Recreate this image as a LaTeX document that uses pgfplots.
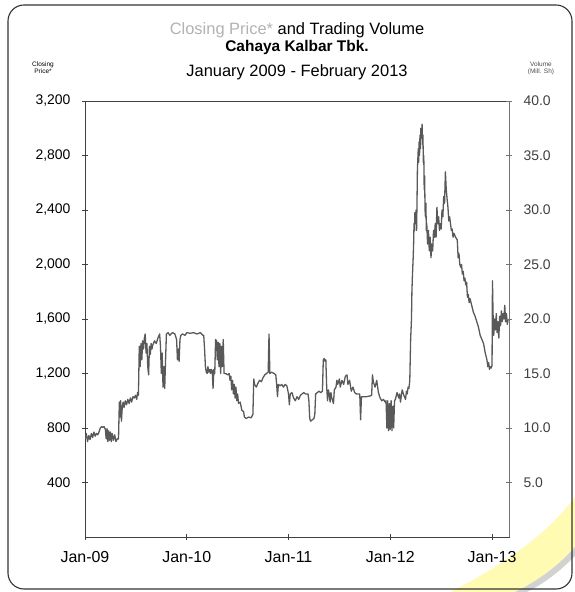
\documentclass[border=0pt]{standalone}
\usepackage{fontspec}
\setmainfont{Liberation Sans}
\usepackage{pgfplots}
\pgfplotsset{compat=1.18}
\usepackage{pgfplotstable}

\pgfplotstableread{
m p
0.0 720
0.15 760
0.3 700
0.45 745
0.6 715
0.75 760
0.9 730
1.05 770
1.2 740
1.35 760
1.5 750
1.65 770
1.8 800
1.95 810
2.1 805
2.25 810
2.4 790
2.5 720
2.6 795
2.7 700
2.8 780
2.9 710
3.0 770
3.1 700
3.2 760
3.35 710
3.5 750
3.65 700
3.8 720
3.95 720
4.05 990
4.1 880
4.2 1000
4.3 850
4.4 960
4.5 990
4.6 950
4.75 1000
4.9 970
5.05 1010
5.2 980
5.35 1020
5.5 990
5.65 1030
5.8 1020
5.95 1040
6.1 1010
6.2 1060
6.3 1040
6.4 1400
6.5 1250
6.6 1420
6.7 1300
6.8 1440
6.9 1380
7.0 1460
7.1 1490
7.2 1350
7.3 1420
7.4 1250
7.5 1190
7.6 1400
7.7 1340
7.8 1420
7.9 1380
8.0 1410
8.2 1440
8.4 1420
8.6 1460
8.8 1490
8.9 1400
9.0 1200
9.1 1350
9.2 1100
9.3 1250
9.4 1090
9.5 1300
9.6 1490
9.8 1500
10.0 1480
10.3 1500
10.6 1490
10.8 1450
10.9 1300
11.0 1380
11.1 1290
11.2 1450
11.3 1480
11.5 1490
11.8 1480
12.0 1500
12.4 1495
12.8 1500
13.2 1490
13.6 1500
13.9 1480
14.0 1480
14.1 1380
14.2 1250
14.3 1210
14.4 1200
14.5 1250
14.6 1210
14.7 1230
14.8 1200
14.9 1230
15.0 1220
15.1 1090
15.2 1230
15.3 1200
15.4 1450
15.5 1440
15.6 1300
15.7 1430
15.8 1250
15.9 1420
16.0 1200
16.1 1400
16.2 1250
16.3 1450
16.4 1200
16.6 1200
16.8 1190
17.0 1200
17.1 1150
17.2 1180
17.3 1080
17.4 1150
17.5 1050
17.6 1120
17.7 1020
17.8 1100
17.9 1000
18.0 1050
18.1 980
18.3 990
18.5 930
18.7 920
18.8 880
19.0 870
19.3 880
19.6 875
19.8 900
19.9 1160
20.0 1120
20.2 1100
20.4 1130
20.6 1150
20.8 1140
21.0 1170
21.2 1190
21.4 1200
21.6 1210
21.7 1490
21.8 1200
22.0 1210
22.3 1200
22.5 1190
22.6 1120
22.7 1030
22.8 1120
23.0 1110
23.2 1120
23.4 1100
23.6 1120
23.8 1110
24.0 1050
24.1 970
24.2 1050
24.4 1060
24.6 1020
24.8 1000
25.0 1030
25.2 1010
25.4 1040
25.6 1050
25.8 1060
26.0 1050
26.3 1050
26.4 1000
26.5 870
26.6 850
26.8 860
27.0 870
27.1 900
27.2 1050
27.4 1060
27.6 1070
27.8 1060
28.0 1070
28.1 1300
28.2 1310
28.3 1290
28.4 1300
28.5 1100
28.6 1000
28.7 1080
28.8 1050
28.9 990
29.0 1060
29.1 1020
29.3 980
29.4 1080
29.6 1100
29.7 1150
29.8 1120
30.0 1160
30.1 1100
30.3 1150
30.5 1120
30.7 1180
30.9 1190
31.0 1120
31.2 1150
31.4 1070
31.6 1100
31.8 1060
32.0 1050
32.2 1050
32.4 1050
32.5 860
32.6 1030
32.8 1030
33.2 1030
33.6 1035
33.8 1040
33.9 1190
34.0 1140
34.2 1100
34.4 1150
34.6 1060
34.8 1020
35.0 1000
35.2 1010
35.4 990
35.5 1000
35.6 800
35.7 1000
35.8 780
35.9 980
36.0 790
36.1 1000
36.2 780
36.3 960
36.4 800
36.5 1000
36.6 1010
36.8 1060
37.0 1020
37.1 1050
37.2 990
37.4 1080
37.6 1040
37.8 1010
37.9 1070
38.0 1050
38.1 1100
38.2 1090
38.3 1150
38.35 1300
38.4 1450
38.5 1600
38.55 1800
38.6 1900
38.7 2050
38.75 2150
38.8 2300
38.85 2250
38.9 2380
39.0 2300
39.05 2400
39.1 2250
39.15 2450
39.2 2700
39.3 2850
39.35 2750
39.4 2900
39.45 2800
39.5 2950
39.55 2850
39.6 3000
39.7 2950
39.75 3030
39.8 2880
39.85 2950
39.9 2750
39.95 2800
40.0 2550
40.05 2650
40.1 2400
40.15 2350
40.2 2450
40.25 2250
40.3 2300
40.4 2150
40.5 2250
40.6 2100
40.7 2200
40.8 2050
40.9 2150
41.0 2100
41.1 2250
41.2 2200
41.3 2300
41.4 2200
41.5 2420
41.6 2300
41.7 2350
41.8 2250
41.9 2300
42.0 2260
42.1 2400
42.2 2350
42.3 2500
42.4 2450
42.5 2680
42.6 2550
42.7 2480
42.8 2420
42.9 2320
43.0 2350
43.1 2300
43.2 2250
43.3 2260
43.4 2200
43.5 2230
43.7 2200
43.9 2180
44.0 2050
44.1 2080
44.2 2000
44.3 1980
44.4 2000
44.5 1930
44.6 1950
44.7 1880
44.8 1900
44.9 1850
45.0 1870
45.1 1760
45.2 1780
45.3 1720
45.4 1750
45.6 1700
45.8 1650
46.0 1620
46.2 1580
46.4 1540
46.6 1480
46.8 1450
47.0 1420
47.2 1350
47.4 1300
47.5 1250
47.6 1280
47.7 1230
47.8 1250
47.9 1240
48.0 1260
48.05 1880
48.1 1700
48.15 1550
48.2 1480
48.3 1600
48.4 1520
48.5 1640
48.6 1500
48.7 1580
48.8 1460
48.9 1620
49.0 1550
49.1 1660
49.2 1580
49.3 1640
49.4 1600
49.5 1700
49.6 1580
49.7 1640
49.8 1560
49.9 1600
}\pricedata

\begin{document}
\begin{tikzpicture}[x=1bp,y=1bp]
\path[use as bounding box] (0,0) rectangle (575,592);
% watermark swoosh (bottom right)
\fill[yellow!30] (450,0) .. controls (500,25) and (545,55) .. (575,95) -- (575,0) -- cycle;
\fill[gray!35] (515,0) .. controls (540,12) and (560,28) .. (575,45) -- (575,36) .. controls (560,20) and (542,7) .. (527,0) -- cycle;
\fill[white] (527,0) .. controls (542,7) and (560,20) .. (575,36) -- (575,0) -- cycle;
% frame
\draw[black!80, line width=1.1bp, rounded corners=16bp] (8,3) rectangle (572,587);
% titles
\node[font=\fontsize{16.5}{18}\selectfont] at (297,562) {\textcolor{black!30}{Closing Price*} and Trading Volume};
\node[font=\bfseries\fontsize{15.5}{18}\selectfont] at (297,544) {Cahaya Kalbar Tbk.};
\node[font=\fontsize{16.5}{18}\selectfont] at (297,520) {January 2009 - February 2013};
\node[font=\fontsize{6.5}{7}\selectfont, align=center] at (43,524) {Closing\\Price*};
\node[font=\fontsize{6.5}{7}\selectfont, align=center, text=black!70] at (541,524) {Volume\\(Mill. Sh)};
\begin{axis}[
  at={(85bp,55bp)}, anchor=south west, scale only axis,
  width=424bp, height=436bp,
  xmin=0, xmax=50, ymin=0, ymax=3200,
  xtick={0,12,24,36,48},
  xticklabels={Jan-09,Jan-10,Jan-11,Jan-12,Jan-13},
  ytick={400,800,1200,1600,2000,2400,2800,3200},
  ytick pos=left, xtick pos=bottom,
  tick align=center, major tick length=6bp,
  axis line style={black!75, line width=0.6bp},
  tick style={black!75, line width=0.6bp},
  xticklabel style={font=\fontsize{16}{18}\selectfont, yshift=-8bp},
  yticklabel style={font=\fontsize{14}{16}\selectfont, xshift=-8bp},
  /pgf/number format/1000 sep={,},
  /pgf/number format/assume math mode=true,
]
\addplot[color=black!65, line width=1.3bp, line join=round, mark=none] table[x=m,y=p] {\pricedata};
\end{axis}
\begin{axis}[
  at={(85bp,55bp)}, anchor=south west, scale only axis,
  width=424bp, height=436bp,
  xmin=0, xmax=50, ymin=0, ymax=40,
  axis x line=none, axis y line*=right,
  ytick={5,10,15,20,25,30,35,40},
  tick align=center, major tick length=6bp,
  axis line style={black!55, line width=0.6bp},
  tick style={black!55, line width=0.6bp},
  yticklabel style={font=\fontsize{14}{16}\selectfont, xshift=8bp, text=black!75,
    /pgf/number format/fixed, /pgf/number format/precision=1,
    /pgf/number format/fixed zerofill},
  /pgf/number format/assume math mode=true,
]
\addplot[draw=none, forget plot] coordinates {(0,0)};
\end{axis}
\end{tikzpicture}
\end{document}
